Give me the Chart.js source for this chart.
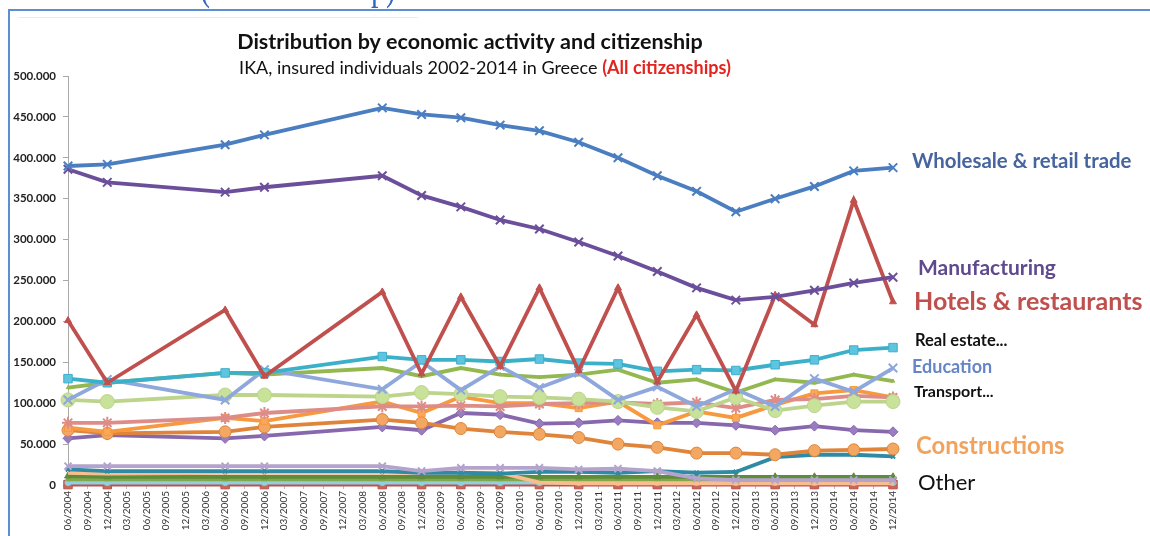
<!DOCTYPE html>
<html>
<head>
<meta charset="utf-8">
<script src="https://cdn.jsdelivr.net/npm/chart.js@4/dist/chart.umd.min.js"></script>
<style>
  html, body { margin: 0; padding: 0; background: #fff; }
  #wrap { width: 1150px; height: 536px; position: relative; }
</style>
</head>
<body>
<div id="wrap"><canvas id="chart" width="1150" height="536"></canvas></div>
<script>
// quarterly category axis 06/2004 .. 12/2014
const quarters = [
  '06/2004','09/2004','12/2004',
  '03/2005','06/2005','09/2005','12/2005',
  '03/2006','06/2006','09/2006','12/2006',
  '03/2007','06/2007','09/2007','12/2007',
  '03/2008','06/2008','09/2008','12/2008',
  '03/2009','06/2009','09/2009','12/2009',
  '03/2010','06/2010','09/2010','12/2010',
  '03/2011','06/2011','09/2011','12/2011',
  '03/2012','06/2012','09/2012','12/2012',
  '03/2013','06/2013','09/2013','12/2013',
  '03/2014','06/2014','09/2014','12/2014'
];
// quarters that actually have a measurement
const observed = [
  '06/2004','12/2004','06/2006','12/2006','06/2008','12/2008','06/2009','12/2009','06/2010',
  '12/2010','06/2011','12/2011','06/2012','12/2012','06/2013','12/2013','06/2014','12/2014'
];
const yTicks = [0, 50000, 100000, 150000, 200000, 250000, 300000, 350000, 400000, 450000, 500000];

// values in thousands of insured individuals
const wholesale     = [390,392,416,428,461,453,449,440,433,419,400,378,359,334,350,365,384,388];
const manufacturing = [386,370,358,364,378,354,340,324,313,297,280,261,241,226,230,238,247,254];
const hotels        = [201,125,214,133,236,136,230,145,241,140,241,126,208,115,232,196,348,224];
const realEstate    = [130,125,137,137,157,153,153,151,154,149,148,139,141,140,147,153,165,168];
const education     = [104,129,104,141,117,151,116,145,119,137,104,120,96,117,96,130,114,143];
const transport     = [119,125,137,135,143,133,143,135,132,135,141,125,129,113,129,125,135,127];
const health        = [104,102,110,110,108,113,111,108,107,105,102,95,90,107,91,97,102,102];
const finance       = [76,76,82,88,96,96,97,96,99,100,101,99,101,94,104,105,109,107];
const services      = [70,65,82,78,102,88,108,100,100,94,102,73,90,82,98,112,116,107];
const constructions = [67,63,65,71,80,76,69,65,62,58,50,46,39,39,37,42,43,44];
const communication = [57,61,57,60,71,67,88,86,75,76,79,76,76,73,67,72,67,65];
const energy        = [23,23,23,23,23,17,21,21,21,19,20,17,8,6,6,6,6,6];
const publicAdmin   = [19,17,17,17,17,15,15,14,16,16,15,17,15,16,34,37,37,35];
const mining        = [15,14,15,15,15,15,15,15,3,2,2,2,2,2,2,2,2,2];
const agriculture   = [11,10,10,10,10,10,10,10,10,10,10,10,10,10,10,10,10,10];
const water         = [7,7,7,7,7,7,7,7,7,7,7,7,7,7,7,7,7,8];
const households    = [3,3,3,3,3,3,3,3,3,3,3,3,3,3,3,3,3,3];
const other         = [0.5,0.5,0.5,0.5,0.5,0.5,0.5,0.5,0.5,0.5,0.5,0.5,0.5,0.5,0.5,0.5,0.5,0.5];

function pts(vals) {
  return observed.map((q, i) => ({ x: q, y: vals[i] * 1000 }));
}

function series(label, vals, color, style, radius, fill, width) {
  return {
    label: label,
    data: pts(vals),
    borderColor: color,
    backgroundColor: fill || color,
    pointBorderColor: color,
    borderWidth: width || 3.8,
    pointStyle: style,
    pointRadius: radius,
    pointBorderWidth: style === 'crossRot' || style === 'star' ? 2 : 1,
    tension: 0,
    spanGaps: true,
    clip: false
  };
}

const datasets = [
  series('Wholesale & retail trade', wholesale, '#4a7ec0', 'crossRot', 6),
  series('Manufacturing', manufacturing, '#6c4f9b', 'crossRot', 6),
  series('Hotels & restaurants', hotels, '#c0504d', 'triangle', 4),
  series('Real estate', realEstate, '#3cb0c9', 'rect', 6, '#5ec4e0'),
  series('Education', education, '#8ea7dc', 'crossRot', 6),
  series('Transport', transport, '#93b84f', 'triangle', 2),
  series('Health', health, '#bcd48c', 'circle', 7, '#c9e29a'),
  series('Finance', finance, '#dd8c88', 'star', 6),
  series('Services', services, '#f7993e', 'rect', 5, '#f9a85a'),
  series('Constructions', constructions, '#df843a', 'circle', 6, '#f2a862'),
  series('Communication', communication, '#8768ad', 'rectRot', 5, '#9a7cc0'),
  series('Energy', energy, '#b4a3cc', 'crossRot', 5),
  series('Public administration', publicAdmin, '#2f8aa3', 'crossRot', 3),
  series('Mining', mining, '#f9bd8e', 'circle', 0),
  series('Agriculture', agriculture, '#5f8c3a', 'triangle', 4),
  series('Water', water, '#82a84a', 'triangle', 3),
  series('Households', households, '#8fd0e2', 'circle', 3),
  series('Other', other, '#c0504d', 'rect', 6, '#c46a5a')
];

// text painted around the plot: title, subtitle, frame and line labels
const decor = {
  id: 'decor',
  beforeDraw(chart) {
    const ctx = chart.ctx;
    ctx.save();
    ctx.fillStyle = '#fff';
    ctx.fillRect(0, 0, chart.width, chart.height);
    // slide heading, cut off at the top so only descenders remain
    ctx.fillStyle = '#3266c2';
    ctx.font = '44px "Liberation Serif"';
    ctx.textBaseline = 'alphabetic';
    ctx.textAlign = 'left';
    const head = '(All citizenship)';
    const hw = ctx.measureText(head).width;
    ctx.translate(200, -1);
    ctx.scale(196 / hw, 1);
    ctx.fillText(head, 0, 0);
    ctx.setTransform(1, 0, 0, 1, 0, 0);
    // frame
    ctx.strokeStyle = '#5b8fd2';
    ctx.lineWidth = 2;
    ctx.beginPath();
    ctx.moveTo(9, 536);
    ctx.lineTo(9, 10);
    ctx.lineTo(1150, 10);
    ctx.stroke();
    ctx.strokeStyle = '#ececec';
    ctx.lineWidth = 1;
    ctx.beginPath();
    ctx.moveTo(18, 17.5);
    ctx.lineTo(418, 17.5);
    ctx.stroke();
    ctx.restore();
  },
  afterDraw(chart) {
    const ctx = chart.ctx;
    ctx.save();
    ctx.textBaseline = 'middle';
    ctx.textAlign = 'center';
    ctx.fillStyle = '#111';
    ctx.font = 'bold 21.5px Lato';
    ctx.fillText('Distribution by economic activity and citizenship', 470, 42);

    const a = 'IKA, insured individuals 2002-2014 in Greece ';
    const b = '(All citizenships)';
    ctx.font = '18px Lato';
    const wa = ctx.measureText(a).width;
    ctx.font = 'bold 18px Lato';
    const wb = ctx.measureText(b).width;
    let x = 485 - (wa + wb) / 2;
    ctx.textAlign = 'left';
    ctx.font = '18px Lato';
    ctx.fillStyle = '#111';
    ctx.fillText(a, x, 68);
    ctx.font = 'bold 18px Lato';
    ctx.fillStyle = '#e3231e';
    ctx.fillText(b, x + wa, 68);

    const notes = [
      ['Wholesale & retail trade', 912, 161, 'bold 20.4px Lato', '#46649e'],
      ['Manufacturing', 918, 268, 'bold 21px Lato', '#5f4a8e'],
      ['Hotels & restaurants', 914, 302, 'bold 25px Lato', '#c0504d'],
      ['Real estate...', 915, 341, 'bold 16.5px Lato', '#111'],
      ['Education', 912, 367, 'bold 18px Lato', '#6685c6'],
      ['Transport...', 914, 392, 'bold 16px Lato', '#111'],
      ['Constructions', 916, 446, 'bold 23.8px Lato', '#f1a35e'],
      ['Other', 918, 483, '22px Lato', '#111']
    ];
    notes.forEach(n => {
      ctx.font = n[3];
      ctx.fillStyle = n[4];
      ctx.fillText(n[0], n[1], n[2]);
    });
    ctx.restore();
  }
};

new Chart(document.getElementById('chart'), {
  type: 'line',
  data: { labels: quarters, datasets: datasets },
  options: {
    responsive: false,
    animation: false,
    layout: { padding: { left: 10, top: 76, right: 257, bottom: 0 } },
    plugins: { legend: { display: false }, tooltip: { enabled: false } },
    scales: {
      x: {
        type: 'category',
        offset: false,
        afterFit(scale) { scale.height = 51; },
        grid: { display: true, drawOnChartArea: false, tickLength: 4, color: '#bbb' },
        border: { color: '#aaa', width: 1 },
        ticks: {
          autoSkip: false,
          minRotation: 90,
          maxRotation: 90,
          padding: 2,
          color: '#333',
          font: { family: 'Lato', size: 10 }
        }
      },
      y: {
        min: 0,
        max: 500000,
        afterFit(scale) { scale.width = 58; },
        afterBuildTicks(scale) { scale.ticks = yTicks.map(v => ({ value: v })); },
        grid: { display: true, drawOnChartArea: false, tickLength: 5, color: '#aaa' },
        border: { color: '#aaa', width: 1 },
        ticks: {
          padding: 7,
          color: '#222',
          font: { family: 'Lato', size: 11.5, weight: 'bold' },
          callback: v => v === 0 ? '0' : v.toLocaleString('de-DE')
        }
      }
    }
  },
  plugins: [decor]
});
</script>
</body>
</html>
